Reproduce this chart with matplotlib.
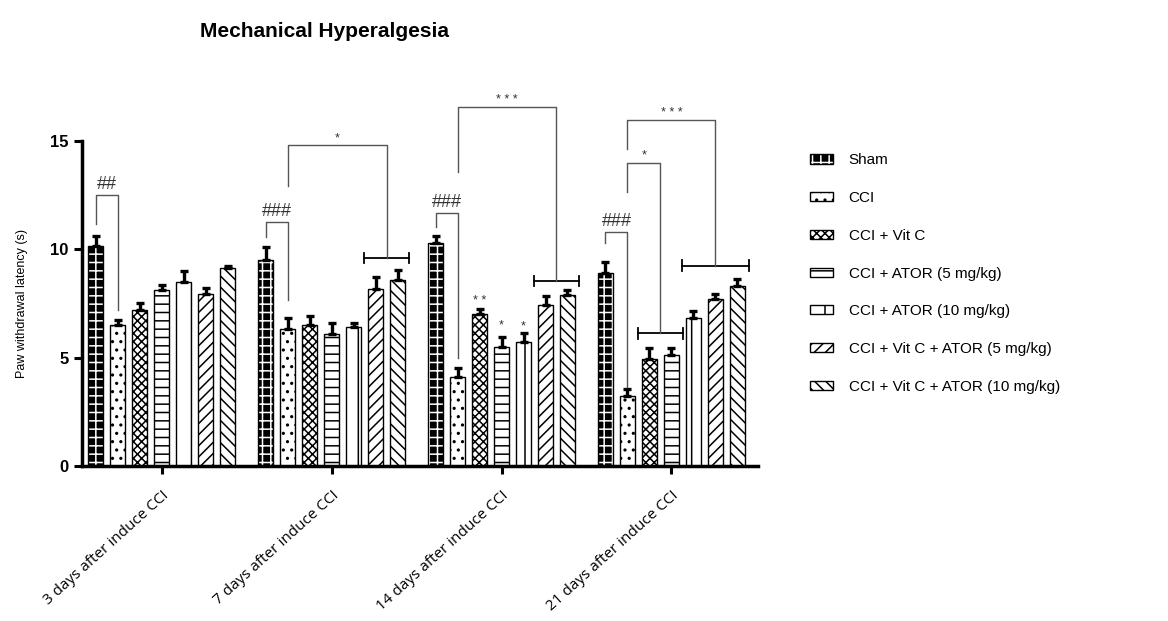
import numpy as np
import matplotlib
matplotlib.use("Agg")
import matplotlib.pyplot as plt

# data
timepoints = ["3 days after induce CCI", "7 days after induce CCI",
              "14 days after induce CCI", "21 days after induce CCI"]
groups = ["Sham", "CCI", "CCI + Vit C", "CCI + ATOR (5 mg/kg)",
          "CCI + ATOR (10 mg/kg)", "CCI + Vit C + ATOR (5 mg/kg)",
          "CCI + Vit C + ATOR (10 mg/kg)"]

sham = [10.17, 9.50, 10.28, 8.89]
cci = [6.50, 6.32, 4.09, 3.23]
cci_vitc = [7.18, 6.50, 7.01, 4.92]
cci_ator5 = [8.10, 6.09, 5.51, 5.10]
cci_ator10 = [8.50, 6.40, 5.71, 6.81]
cci_vitc_ator5 = [7.92, 8.18, 7.41, 7.69]
cci_vitc_ator10 = [9.12, 8.60, 7.91, 8.29]

sham_err = [0.45, 0.60, 0.33, 0.52]
cci_err = [0.22, 0.50, 0.45, 0.34]
cci_vitc_err = [0.33, 0.43, 0.22, 0.54]
cci_ator5_err = [0.23, 0.50, 0.45, 0.35]
cci_ator10_err = [0.52, 0.20, 0.43, 0.35]
cci_vitc_ator5_err = [0.30, 0.55, 0.45, 0.25]
cci_vitc_ator10_err = [0.10, 0.43, 0.23, 0.35]

means = [sham, cci, cci_vitc, cci_ator5, cci_ator10, cci_vitc_ator5, cci_vitc_ator10]
errs = [sham_err, cci_err, cci_vitc_err, cci_ator5_err, cci_ator10_err,
        cci_vitc_ator5_err, cci_vitc_ator10_err]
hatches = ["++", "..", "xxxx", "--", "|", "///", "\\\\\\"]

plt.rcParams["font.family"] = ["Liberation Sans", "DejaVu Sans"]
plt.rcParams["hatch.linewidth"] = 1.1

fig = plt.figure(figsize=(11.68, 6.21), dpi=100)
ax = fig.add_axes([0.0702, 0.2496, 0.5788, 0.5234])

pitch = 0.1294
width = 0.088
x = np.arange(len(timepoints))


def bar_x(g, i):
    return g + (i - 3) * pitch


handles = []
for i in range(len(groups)):
    xs = x + (i - 3) * pitch
    if i == 0:
        # black face with white pattern
        b1 = ax.bar(xs, means[i], width, color="black", edgecolor="white",
                    hatch=hatches[i], linewidth=0)
        b2 = ax.bar(xs, means[i], width, fill=False, edgecolor="black", linewidth=1)
        handles.append((b1, b2))
    else:
        b = ax.bar(xs, means[i], width, color="white", edgecolor="black",
                   hatch=hatches[i], linewidth=1)
        handles.append(b)
    ax.errorbar(xs, means[i], yerr=[np.zeros(4), errs[i]], fmt="none",
                ecolor="black", elinewidth=2.4, capsize=3, capthick=2.4)

ax.set_xlim(-0.47, 3.51)
ax.set_ylim(0, 15)
ax.set_yticks([0, 5, 10, 15])
ax.set_xticks(x)
ax.set_xticklabels(timepoints, rotation=42, ha="right", rotation_mode="anchor",
                   fontsize=11, family="Open Sans")
for lab in ax.get_yticklabels():
    lab.set_fontweight("bold")
    lab.set_fontsize(12)
ax.tick_params(axis="both", direction="out", width=2.2, length=6)
ax.tick_params(axis="x", pad=10)
for s in ["top", "right"]:
    ax.spines[s].set_visible(False)
for s in ["left", "bottom"]:
    ax.spines[s].set_linewidth(2.5)
ax.set_ylabel("Paw withdrawal latency (s)", fontsize=9, labelpad=16)

line_c = "#555555"


def bracket(x1, x2, top, y1, y2, label, size, off):
    ax.plot([x1, x1, x2, x2], [y1, top, top, y2], color=line_c, lw=1,
            clip_on=False)
    ax.text((x1 + x2) / 2, top + off, label, ha="center", va="bottom",
            fontsize=size, color="#333333", clip_on=False)


def span(a, b, y):
    xa = bar_x(a[0], a[1]) - width / 2 - 0.025
    xb = bar_x(b[0], b[1]) + width / 2 + 0.025
    ax.plot([xa, xb], [y, y], color="black", lw=1.3, clip_on=False)
    ax.plot([xa, xa], [y - 0.25, y + 0.25], color="black", lw=1.3, clip_on=False)
    ax.plot([xb, xb], [y - 0.25, y + 0.25], color="black", lw=1.3, clip_on=False)
    return (xa + xb) / 2


# sham vs CCI
bracket(bar_x(0, 0), bar_x(0, 1), 12.5, 11.17, 7.2, "##", 13, 0.1)
bracket(bar_x(1, 0), bar_x(1, 1), 11.26, 10.57, 7.66, "###", 13, 0.1)
bracket(bar_x(2, 0), bar_x(2, 1), 11.69, 11.03, 4.98, "###", 13, 0.1)
bracket(bar_x(3, 0), bar_x(3, 1), 10.78, 10.28, 3.66, "###", 13, 0.1)

# CCI vs treatments
xc = span((1, 5), (1, 6), 9.6)
bracket(bar_x(1, 1), xc, 14.81, 12.92, 9.6, "*", 9, 0.05)
xc = span((2, 5), (2, 6), 8.54)
bracket(bar_x(2, 1), xc, 16.57, 13.57, 8.54, "* * *", 9, 0.05)
xc = span((3, 2), (3, 3), 6.12)
bracket(bar_x(3, 1), xc, 14.0, 12.63, 6.12, "*", 9, 0.05)
xc = span((3, 4), (3, 6), 9.24)
bracket(bar_x(3, 1), xc, 15.97, 14.61, 9.24, "* * *", 9, 0.05)

# single stars over bars
ax.text(bar_x(2, 2), 7.35, "* *", ha="center", va="bottom", fontsize=9, color="#333333")
ax.text(bar_x(2, 3), 6.2, "*", ha="center", va="bottom", fontsize=9, color="#333333")
ax.text(bar_x(2, 4), 6.15, "*", ha="center", va="bottom", fontsize=9, color="#333333")

fig.text(0.171, 0.95, "Mechanical Hyperalgesia", fontsize=15, fontweight="bold",
         ha="left", va="center")

fig.legend(handles, groups, loc="upper left", bbox_to_anchor=(0.682, 0.775),
           frameon=False, fontsize=11, handlelength=1.5, handleheight=0.55,
           labelspacing=1.55, handletextpad=1.0)

fig.savefig("out.png", dpi=100)
